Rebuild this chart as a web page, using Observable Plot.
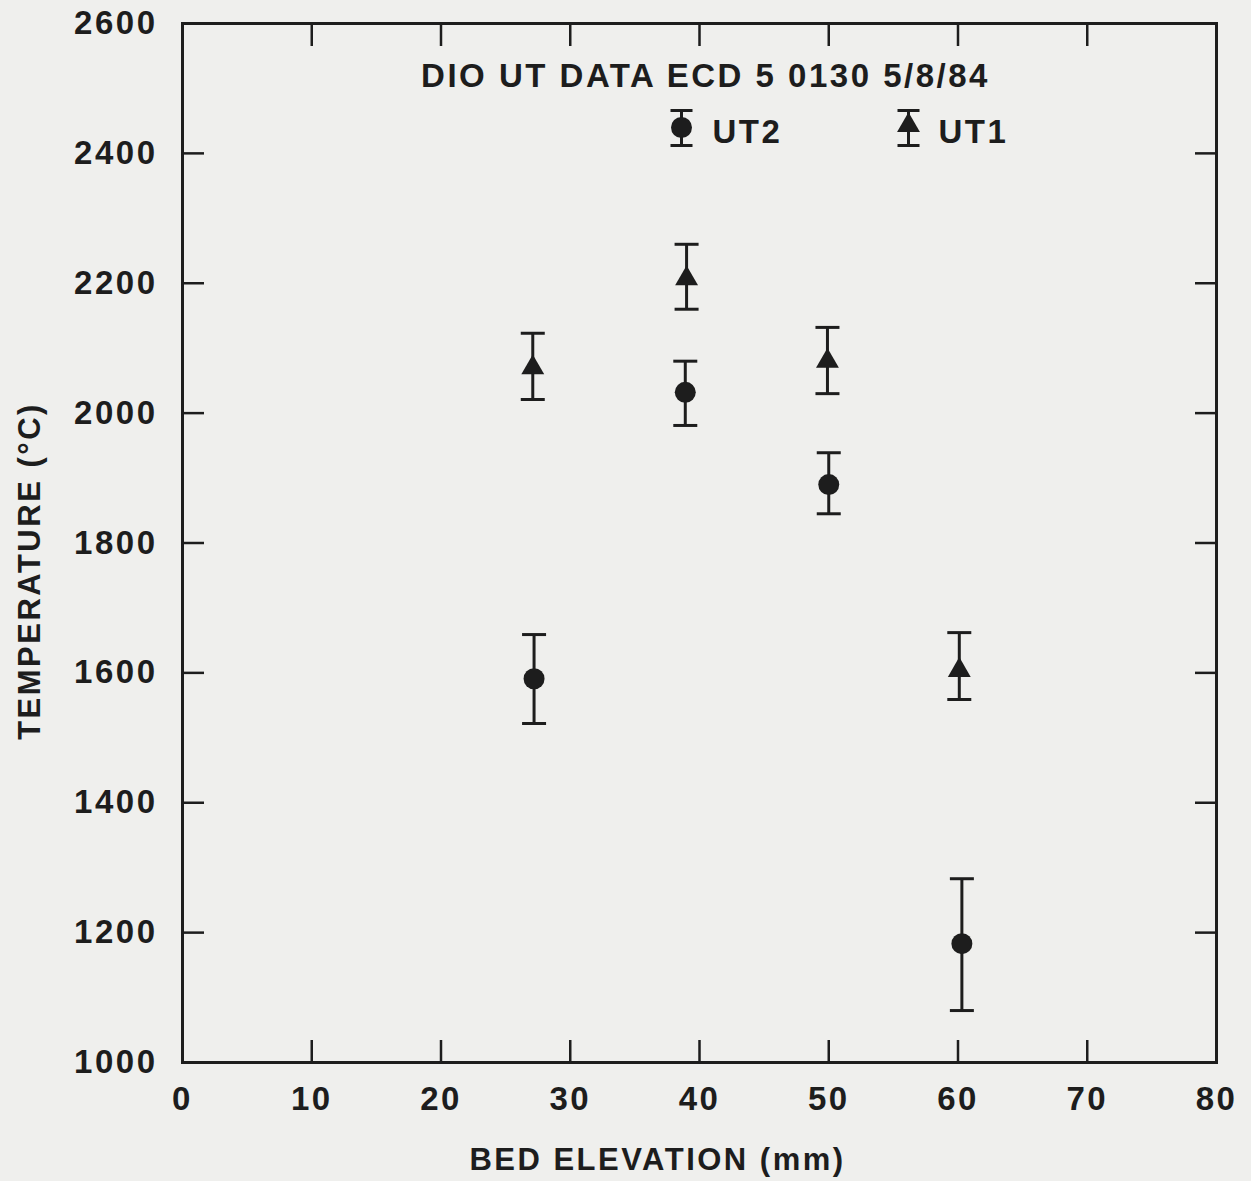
<!DOCTYPE html>
<html><head><meta charset="utf-8">
<script src="https://cdn.jsdelivr.net/npm/d3@7"></script>
<script src="https://cdn.jsdelivr.net/npm/@observablehq/plot@0.6"></script>
<style>html,body{margin:0;padding:0;background:#efefed;}</style>
</head><body><div id="chart"></div>
<script>
// ---- data ----
const elevationUT2 = [27.2, 38.9, 50.0, 60.3];
const tempUT2      = [1591, 2032, 1890, 1183];
const lowUT2       = [1522, 1981, 1845, 1080];
const highUT2      = [1659, 2080, 1939, 1283];

const elevationUT1 = [27.1, 39.0, 49.9, 60.1];
const tempUT1      = [2070, 2207, 2080, 1604];
const lowUT1       = [2021, 2160, 2030, 1559];
const highUT1      = [2123, 2260, 2132, 1662];

const xTickLabels = [0, 10, 20, 30, 40, 50, 60, 70, 80];
const yTickLabels = [1000, 1200, 1400, 1600, 1800, 2000, 2200, 2400, 2600];
const xInnerTicks = [10, 20, 30, 40, 50, 60, 70];
const yInnerTicks = [1200, 1400, 1600, 1800, 2000, 2200, 2400];

const titleText = "DIO UT DATA ECD 5 0130 5/8/84";
const seriesNames = ["UT2", "UT1"];
const xLabel = "BED ELEVATION (mm)";
const yLabel = "TEMPERATURE (°C)";

// ---- build tables ----
const ut2 = elevationUT2.map((x, i) => ({x, t: tempUT2[i], lo: lowUT2[i], hi: highUT2[i]}));
const ut1 = elevationUT1.map((x, i) => ({x, t: tempUT1[i], lo: lowUT1[i], hi: highUT1[i]}));
const all = ut2.concat(ut1);

const ink = "#1d1d1d";
const capSymbol = {draw(ctx) { ctx.moveTo(-12, 0); ctx.lineTo(12, 0); }};
const errSymbol = {draw(ctx) {
  ctx.moveTo(0, -17); ctx.lineTo(0, 18);
  ctx.moveTo(-11, -17); ctx.lineTo(11, -17);
  ctx.moveTo(-11, 18); ctx.lineTo(11, 18);
}};

const chart = Plot.plot({
  width: 1251,
  height: 1181,
  marginLeft: 182,
  marginRight: 35,
  marginTop: 23,
  marginBottom: 119,
  style: {background: "#efefed", color: ink, fontFamily: "'Liberation Sans', Arial, sans-serif",
          fontWeight: "bold", fontSize: "33px", letterSpacing: "2.5px"},
  x: {domain: [0, 80]},
  y: {domain: [1000, 2600]},
  marks: [
    Plot.frame({stroke: ink, strokeWidth: 3}),
    // tick labels
    Plot.axisX(xTickLabels, {anchor: "bottom", tickSize: 0, tickPadding: 24, label: null, fontSize: 33, tickFormat: "d"}),
    Plot.axisY(yTickLabels, {anchor: "left", tickSize: 0, tickPadding: 25, label: null, fontSize: 33, tickFormat: "d"}),
    // inward ticks on all four sides
    Plot.axisX(xInnerTicks, {anchor: "bottom", tickSize: -22, strokeWidth: 2.5, fill: "none", label: null}),
    Plot.axisX(xInnerTicks, {anchor: "top", tickSize: -22, strokeWidth: 2.5, fill: "none", label: null}),
    Plot.axisY(yInnerTicks, {anchor: "left", tickSize: -22, strokeWidth: 2.5, fill: "none", label: null}),
    Plot.axisY(yInnerTicks, {anchor: "right", tickSize: -22, strokeWidth: 2.5, fill: "none", label: null}),
    // axis titles
    Plot.text([xLabel], {text: d => d, frameAnchor: "bottom", lineAnchor: "middle", textAnchor: "middle", dx: -42, dy: 98, fontSize: 31, letterSpacing: 2}),
    Plot.text([yLabel], {text: d => d, frameAnchor: "left", lineAnchor: "middle", textAnchor: "middle", dx: -152, dy: 28, rotate: -90, fontSize: 31, letterSpacing: 2}),
    // error bars
    Plot.ruleX(all, {x: "x", y1: "lo", y2: "hi", stroke: ink, strokeWidth: 3}),
    Plot.dot(all, {x: "x", y: "lo", symbol: capSymbol, stroke: ink, fill: "none", strokeWidth: 3}),
    Plot.dot(all, {x: "x", y: "hi", symbol: capSymbol, stroke: ink, fill: "none", strokeWidth: 3}),
    // points
    Plot.dot(ut2, {x: "x", y: "t", symbol: "circle", r: 10.5, fill: ink, stroke: "none"}),
    Plot.dot(ut1, {x: "x", y: "t", symbol: "triangle", r: 8.5, fill: ink, stroke: "none"}),
    // title & legend inside the frame
    Plot.text([titleText], {text: d => d, frameAnchor: "top", lineAnchor: "middle", textAnchor: "middle", dx: 6, dy: 53, fontSize: 33, letterSpacing: 2.7}),
    Plot.dot([seriesNames[0]], {frameAnchor: "top-left", dx: 499, dy: 104, symbol: errSymbol, stroke: ink, fill: "none", strokeWidth: 3}),
    Plot.dot([seriesNames[0]], {frameAnchor: "top-left", dx: 499, dy: 104, symbol: "circle", r: 10.5, fill: ink, stroke: "none"}),
    Plot.text([seriesNames[0]], {text: d => d, frameAnchor: "top-left", lineAnchor: "middle", textAnchor: "start", dx: 530, dy: 109, fontSize: 33}),
    Plot.dot([seriesNames[1]], {frameAnchor: "top-left", dx: 726, dy: 104, symbol: errSymbol, stroke: ink, fill: "none", strokeWidth: 3}),
    Plot.dot([seriesNames[1]], {frameAnchor: "top-left", dx: 726, dy: 102, symbol: "triangle", r: 8.5, fill: ink, stroke: "none"}),
    Plot.text([seriesNames[1]], {text: d => d, frameAnchor: "top-left", lineAnchor: "middle", textAnchor: "start", dx: 756, dy: 109, fontSize: 33})
  ]
});
document.getElementById("chart").appendChild(chart);
</script>
</body></html>
